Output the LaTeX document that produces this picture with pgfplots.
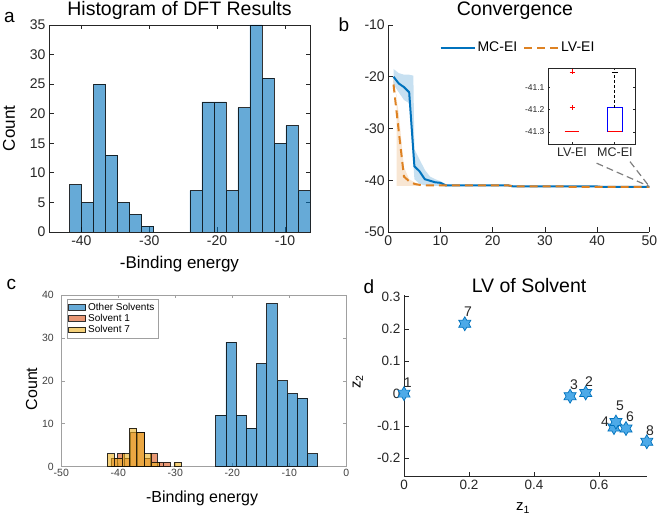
\documentclass[border=0pt]{standalone}
\usepackage{fontspec}
\setmainfont{Liberation Sans}
\usepackage{pgfplots}
\pgfplotsset{compat=1.18}

\definecolor{mblue}{RGB}{0,114,189}
\definecolor{morange}{RGB}{217,83,25}
\definecolor{myellow}{RGB}{237,177,32}
\definecolor{lvorange}{RGB}{222,130,35}
\definecolor{axgray}{RGB}{38,38,38}
\definecolor{lightax}{RGB}{160,160,160}
\definecolor{starfill}{RGB}{77,170,232}

\newcommand{\fs}[1]{\fontsize{#1}{#1}\selectfont}

\pgfdeclareplotmark{hexagram}{%
  \pgfpathmoveto{\pgfpointpolar{90}{\pgfplotmarksize}}%
  \pgfpathlineto{\pgfpointpolar{120}{0.577\pgfplotmarksize}}%
  \pgfpathlineto{\pgfpointpolar{150}{\pgfplotmarksize}}%
  \pgfpathlineto{\pgfpointpolar{180}{0.577\pgfplotmarksize}}%
  \pgfpathlineto{\pgfpointpolar{210}{\pgfplotmarksize}}%
  \pgfpathlineto{\pgfpointpolar{240}{0.577\pgfplotmarksize}}%
  \pgfpathlineto{\pgfpointpolar{270}{\pgfplotmarksize}}%
  \pgfpathlineto{\pgfpointpolar{300}{0.577\pgfplotmarksize}}%
  \pgfpathlineto{\pgfpointpolar{330}{\pgfplotmarksize}}%
  \pgfpathlineto{\pgfpointpolar{0}{0.577\pgfplotmarksize}}%
  \pgfpathlineto{\pgfpointpolar{30}{\pgfplotmarksize}}%
  \pgfpathlineto{\pgfpointpolar{60}{0.577\pgfplotmarksize}}%
  \pgfpathclose
  \pgfusepathqfillstroke
}

\pgfplotsset{
  histbar/.style={ybar, bar shift=0pt, draw=black, draw opacity=0.8, line width=0.7pt, fill opacity=0.6, area legend},
  matax/.style={scale only axis, anchor=south west, tick align=inside,
    axis line style={draw=axgray, line width=0.9pt},
    every tick/.style={draw=axgray, line width=0.8pt},
    major tick length=4.5pt,
    tick label style={text=axgray}},
}

\begin{document}
\begin{tikzpicture}
\path[use as bounding box] (0pt,0pt) rectangle (658pt,521pt);

% ---------------- panel a
\begin{axis}[matax, at={(49pt,289pt)}, width=261pt, height=207pt,
  xmin=-44.77, xmax=-6.31, ymin=0, ymax=35,
  xtick={-40,-30,-20,-10}, xticklabels={-40,-30,-20,-10},
  ytick={0,5,10,15,20,25,30,35}, yticklabels={0,5,10,15,20,25,30,35},
  xtick pos=both, ytick pos=both,
  tick label style={font=\fs{14}},
  title={Histogram of DFT Results},
  title style={font=\fs{19.5}, at={(axis description cs:0.5,1.0435)}, anchor=base, yshift=-6pt},
  xlabel={-Binding energy},
  xlabel style={font=\fs{17}, at={(axis description cs:0.5,-0.176)}, anchor=base},
  ylabel={Count},
  ylabel style={font=\fs{17}, at={(axis description cs:-0.153,0.5)}, anchor=center},
]
\addplot[histbar, fill=mblue, bar width=1.7705] coordinates {
 (-40.835,8) (-39.064,5) (-37.294,25) (-35.523,13) (-33.753,5) (-31.982,3)
 (-30.212,1) (-23.130,7) (-21.359,22) (-19.588,22) (-17.818,7) (-16.047,21)
 (-14.277,35) (-12.506,26) (-10.736,15) (-8.965,18) (-7.195,7)};
\end{axis}

% ---------------- panel b
\begin{axis}[matax, at={(388.3pt,289pt)}, width=261pt, height=207pt,
  axis lines*=left,
  xmin=0, xmax=50, ymin=-50, ymax=-10,
  xtick={0,10,20,30,40,50}, xticklabels={0,10,20,30,40,50},
  ytick={-50,-40,-30,-20,-10}, yticklabels={-50,-40,-30,-20,-10},
  tick label style={font=\fs{14}},
  title={Convergence},
  title style={font=\fs{19.5}, at={(axis description cs:0.485,1.0435)}, anchor=base, yshift=-6pt},
  legend style={at={(0.497,0.890)}, anchor=center, draw=none, fill=none, font=\fs{14},
    legend columns=2, /tikz/every even column/.append style={column sep=4pt}},
  legend image code/.code={\draw[#1] (0pt,0pt) -- (34pt,0pt);},
]
\addplot[fill=mblue, fill opacity=0.22, draw=none, forget plot] coordinates {
 (1,-18.5) (2,-19.3) (3,-19.6) (4,-19.6) (4.8,-19.8) (5,-34) (6,-36) (7,-38)
 (8,-39.3) (9,-39.8) (10,-40.2) (11,-40.7) (12,-41) (12,-41.2) (11,-41.2)
 (10,-41.1) (9,-41.1) (8,-41.1) (7,-41) (6,-40.7) (5,-39.8) (4,-25.1)
 (3,-24.5) (2,-23) (1,-21.5)};
\addplot[fill=lvorange, fill opacity=0.2, draw=none, forget plot] coordinates {
 (0.9,-19.8) (2,-27) (3,-37.5) (4,-39.8) (5,-40.4) (6,-40.8) (6,-41.1)
 (1.6,-41.1) (1.6,-23.5) (1,-22.5)};
\addplot[mblue, line width=2pt] coordinates {
 (1,-20) (2,-21.3) (3,-22) (4,-23) (5,-37.3) (6,-38.3) (7,-39.8) (8,-40.1)
 (9,-40.4) (10,-40.5) (11,-41.0) (23,-41.0) (24,-41.2) (40,-41.2) (41,-41.3) (50,-41.3)};
\addlegendentry{MC-EI}
\addplot[lvorange, line width=2pt, dash pattern=on 8pt off 5pt] coordinates {
 (1,-21.5) (2,-30.5) (3,-39.3) (4,-40.2) (5,-40.7) (6,-40.9) (7,-41.0)
 (23,-41.0) (24,-41.2) (34,-41.2) (35,-41.3) (50,-41.3)};
\addlegendentry{LV-EI}
\draw[gray, line width=1.2pt, dash pattern=on 7pt off 4pt] (axis cs:39.9,-36.7) -- (axis cs:50,-41.2);
\draw[gray, line width=1.2pt, dash pattern=on 7pt off 4pt] (axis cs:46.3,-36.4) -- (axis cs:50,-41.2);
\end{axis}

% ---------------- inset
\begin{axis}[matax, at={(548pt,377pt)}, width=87pt, height=76pt,
  axis background/.style={fill=white},
  xmin=0.44, xmax=2.47, ymin=-41.354, ymax=-41.012,
  xtick={1,2}, xticklabels={LV-EI,MC-EI},
  ytick={-41.3,-41.2,-41.1}, yticklabels={-41.3,-41.2,-41.1},
  xtick pos=both, ytick pos=both, major tick length=2pt,
  axis line style={draw=axgray, line width=0.8pt},
  xticklabel style={font=\fs{12.5}},
  yticklabel style={font=\fs{8.5}},
]
\addplot[red, line width=1pt] coordinates {(0.83,-41.3) (1.17,-41.3)};
\addplot[red, only marks, mark=+, mark size=2.5pt, line width=0.9pt] coordinates {(1,-41.03) (1,-41.19)};
\addplot[blue, line width=1pt] coordinates {(1.83,-41.3) (1.83,-41.19) (2.17,-41.19) (2.17,-41.3) (1.83,-41.3)};
\addplot[black, line width=0.9pt, dash pattern=on 3pt off 2pt] coordinates {(2,-41.19) (2,-41.033)};
\addplot[black, line width=0.9pt] coordinates {(1.93,-41.03) (2.07,-41.03)};
\addplot[red, line width=1pt] coordinates {(1.83,-41.3) (2.17,-41.3)};
\end{axis}

% ---------------- panel c
\begin{axis}[matax, at={(61.3pt,54.3pt)}, width=285pt, height=171.7pt,
  xmin=-50, xmax=0, ymin=0, ymax=40,
  xtick={-50,-40,-30,-20,-10,0}, xticklabels={-50,-40,-30,-20,-10,0},
  ytick={0,10,20,30,40}, yticklabels={0,10,20,30,40},
  xtick pos=both, ytick pos=both, major tick length=3.5pt,
  axis line style={draw=lightax, line width=0.7pt},
  every tick/.style={draw=lightax, line width=0.6pt},
  tick label style={font=\fs{10.5}, text=black!75},
  xticklabel style={inner sep=2.5pt},
  yticklabel style={xshift=-4pt},
  xlabel={-Binding energy},
  xlabel style={font=\fs{16}, at={(axis description cs:0.494,-0.211)}, anchor=base},
  ylabel={Count},
  ylabel style={font=\fs{16}, at={(axis description cs:-0.104,0.453)}, anchor=center},
  legend style={at={(0.019,0.975)}, anchor=north west, font=\fs{10}, draw=lightax,
    fill=white, inner sep=1.5pt, row sep=-1.5pt, cells={anchor=west}},
  legend image code/.code={\draw[#1] (0pt,-3.5pt) rectangle (23pt,3.8pt);},
]
\addplot[histbar, fill=mblue, bar width=1.79] coordinates {
 (-22.015,12) (-20.225,29) (-18.435,12) (-16.645,9) (-14.855,24)
 (-13.065,38) (-11.275,20) (-9.485,17) (-7.695,16) (-5.905,3)};
\addlegendentry{Other Solvents}
\addplot[histbar, fill=morange, bar width=1.16] coordinates {
 (-40.72,2) (-39.56,3) (-38.40,2) (-37.24,8) (-36.08,8) (-34.92,2)
 (-33.76,3) (-32.60,1) (-31.44,1)};
\addlegendentry{Solvent 1}
\addplot[histbar, fill=myellow, bar width=1.3] coordinates {
 (-41.30,3) (-40.00,2) (-38.70,3) (-37.40,9) (-36.10,8) (-34.80,3)
 (-33.50,1) (-29.60,1)};
\addlegendentry{Solvent 7}
\end{axis}

% ---------------- panel d
\begin{axis}[matax, at={(404pt,44.3pt)}, width=242.8pt, height=181.7pt,
  axis lines*=left, clip=false,
  xmin=0, xmax=0.747, ymin=-0.257, ymax=0.305,
  xtick={0,0.2,0.4,0.6}, xticklabels={0,0.2,0.4,0.6},
  ytick={-0.2,-0.1,0,0.1,0.2,0.3}, yticklabels={-0.2,-0.1,0,0.1,0.2,0.3},
  tick label style={font=\fs{13.5}},
  title={LV of Solvent},
  title style={font=\fs{19.5}, at={(axis description cs:0.515,1.011)}, anchor=base, yshift=-6pt},
  xlabel={z\textsubscript{1}},
  xlabel style={font=\fs{15}, at={(axis description cs:0.49,-0.172)}, anchor=center},
  ylabel={z\textsubscript{2}},
  ylabel style={font=\fs{15}, at={(axis description cs:-0.19,0.521)}, anchor=center},
]
\addplot[only marks, mark=hexagram, mark size=7pt,
  mark options={fill=starfill, draw=mblue, line width=0.7pt}] coordinates {
 (0,0) (0.559,0.002) (0.511,-0.008) (0.646,-0.105) (0.652,-0.088)
 (0.683,-0.108) (0.187,0.216) (0.747,-0.149)};
\begin{scope}[every node/.style={font=\fs{14}, text=axgray}]
\node at (axis cs:0,0) [xshift=3.7pt, yshift=11pt] {1};
\node at (axis cs:0.559,0.002) [xshift=3.3pt, yshift=11pt] {2};
\node at (axis cs:0.511,-0.008) [xshift=4pt, yshift=12pt] {3};
\node at (axis cs:0.646,-0.105) [xshift=-9pt, yshift=6pt] {4};
\node at (axis cs:0.652,-0.088) [xshift=4pt, yshift=16pt] {5};
\node at (axis cs:0.683,-0.108) [xshift=4pt, yshift=11.7pt] {6};
\node at (axis cs:0.187,0.216) [xshift=3.3pt, yshift=11.6pt] {7};
\node at (axis cs:0.747,-0.149) [xshift=3.3pt, yshift=11pt] {8};
\end{scope}
\end{axis}

% panel letters
\node[anchor=base west, font=\fs{19}] at (0.5pt,498pt) {a};
\node[anchor=base west, font=\fs{19}] at (335pt,489.3pt) {b};
\node[anchor=base west, font=\fs{19}] at (3pt,231pt) {c};
\node[anchor=base west, font=\fs{19}] at (360pt,227.7pt) {d};
\end{tikzpicture}
\end{document}
